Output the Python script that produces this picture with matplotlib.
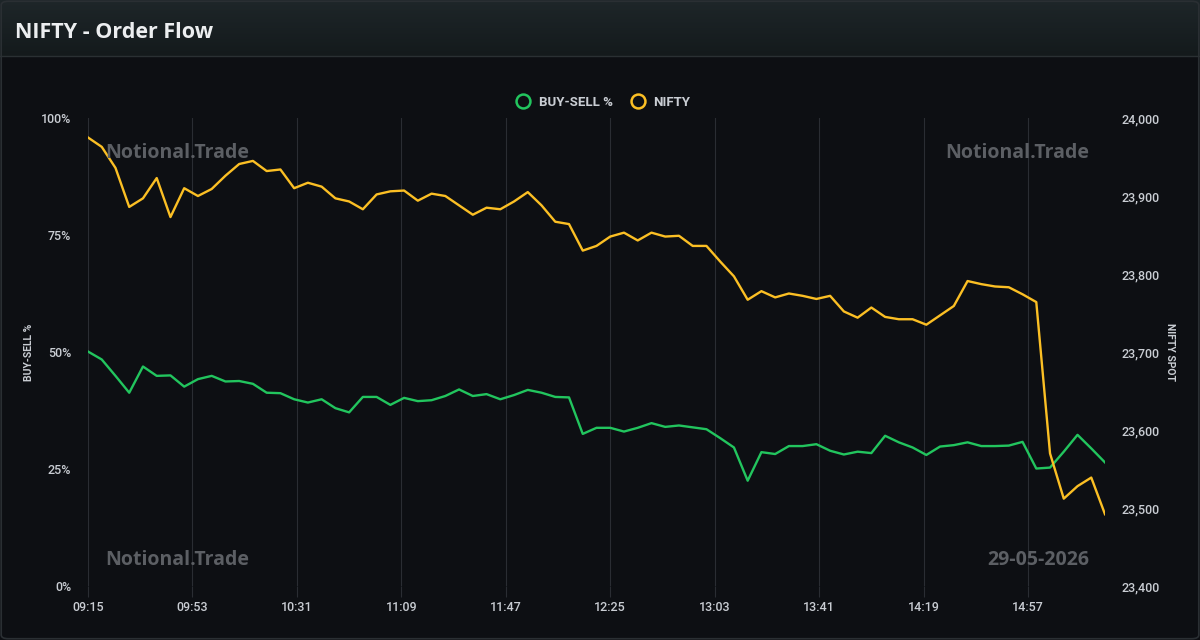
import numpy as np
import pandas as pd
import matplotlib.pyplot as plt
from matplotlib.patches import FancyBboxPatch
from matplotlib.lines import Line2D
from matplotlib.colors import LinearSegmentedColormap

# 5 minute snapshots, 09:15 -> 15:25
times = pd.date_range('2026-05-29 09:15', periods=75, freq='5min')

buy_sell_pct = [
    50.1, 48.4, 44.9, 41.3, 46.9, 44.9, 45.0, 42.6, 44.2, 44.9,
    43.7, 43.8, 43.2, 41.3, 41.2, 39.9, 39.2, 39.9, 38.0, 37.1,
    40.4, 40.4, 38.7, 40.2, 39.5, 39.7, 40.6, 42.0, 40.6, 41.0,
    39.9, 40.8, 41.9, 41.3, 40.4, 40.3, 32.5, 33.8, 33.8, 33.0,
    33.8, 34.8, 34.0, 34.3, 33.9, 33.5, 31.6, 29.6, 22.5, 28.6,
    28.2, 29.9, 29.9, 30.3, 28.9, 28.1, 28.7, 28.4, 32.1, 30.7,
    29.6, 28.0, 29.8, 30.1, 30.7, 29.9, 29.9, 30.0, 30.8, 25.1,
    25.3, 28.7, 32.3, 29.4, 26.4,
]

nifty_spot = [
    23975, 23963, 23936, 23886, 23897, 23923, 23873, 23910, 23900, 23909,
    23926, 23941, 23945, 23932, 23934, 23910, 23917, 23912, 23897, 23893,
    23883, 23902, 23906, 23907, 23894, 23903, 23900, 23888, 23876, 23885,
    23883, 23893, 23905, 23888, 23867, 23864, 23830, 23836, 23848, 23853,
    23843, 23853, 23848, 23849, 23836, 23836, 23816, 23797, 23767, 23778,
    23770, 23775, 23772, 23768, 23772, 23752, 23744, 23757, 23745, 23742,
    23742, 23735, 23747, 23759, 23791, 23787, 23784, 23783, 23774, 23764,
    23570, 23512, 23528, 23539, 23492,
]

x_tick_labels = ['09:15', '09:53', '10:31', '11:09', '11:47',
                 '12:25', '13:03', '13:41', '14:19', '14:57']
pct_ticks = [0, 25, 50, 75, 100]
spot_ticks = [23400, 23500, 23600, 23700, 23800, 23900, 24000]

GREEN = '#22c55e'
YELLOW = '#fbbf24'
BG = '#0d0f13'
GRID = '#2a2d33'
TXT = '#c9cdd3'
WM = '#5c5f64'


def to_minutes(hhmm):
    h, m = hhmm.split(':')
    return (int(h) - 9) * 60 + int(m) - 15


x = [(t.hour - 9) * 60 + t.minute - 15 for t in times]
x_ticks = [to_minutes(s) for s in x_tick_labels]

fig = plt.figure(figsize=(12, 6.4), dpi=100, facecolor=BG)

# header bar with a soft vertical gradient
hdr = fig.add_axes([0, 1 - 56 / 640, 1, 56 / 640])
grad = np.linspace(0, 1, 100).reshape(-1, 1)
cmap = LinearSegmentedColormap.from_list('hdr', ['#1e2629', '#141a1c'])
hdr.imshow(grad, aspect='auto', cmap=cmap, extent=[0, 1, 0, 1])
hdr.set_axis_off()
fig.text(15 / 1200, 1 - 32 / 640, 'NIFTY - Order Flow', color='#eceef0',
         fontsize=15.5, fontweight='bold', family='Open Sans', va='center')
fig.add_artist(Line2D([0, 1], [1 - 56 / 640, 1 - 56 / 640], color='#2a3033', lw=1))

# rounded card border
fig.add_artist(FancyBboxPatch((0.001, 0.002), 0.998, 0.996,
                              boxstyle='round,pad=0,rounding_size=0.006',
                              transform=fig.transFigure, fill=False,
                              edgecolor='#2a2f33', lw=1.2))

ax = fig.add_axes([88 / 1200, 1 - 586 / 640, (1105 - 88) / 1200, (586 - 118) / 640])
ax.set_facecolor(BG)
ax2 = ax.twinx()

ax.plot(x, buy_sell_pct, color=GREEN, lw=1.7, zorder=3)
ax2.plot(x, nifty_spot, color=YELLOW, lw=1.7, zorder=3)

ax.set_xlim(0, 370)
ax.set_ylim(0, 100)
ax2.set_ylim(23400, 24000)

ax.set_xticks(x_ticks)
ax.set_xticklabels(x_tick_labels)
ax.grid(axis='x', color=GRID, lw=0.8)
ax.set_axisbelow(True)

ax.set_yticks(pct_ticks)
ax.set_yticklabels([f'{v}%' for v in pct_ticks])
ax2.set_yticks(spot_ticks)
ax2.set_yticklabels([f'{v:,}' for v in spot_ticks])

for a in (ax, ax2):
    for s in a.spines.values():
        s.set_visible(False)
    for lab in a.get_xticklabels() + a.get_yticklabels():
        lab.set_fontfamily('Roboto')
        lab.set_fontweight('medium')

ax.tick_params(axis='x', colors=TXT, labelsize=9, length=8, width=0.8,
               color=GRID, pad=3)
ax.tick_params(axis='y', colors=TXT, labelsize=9, length=0, pad=12)
ax2.tick_params(axis='y', colors=TXT, labelsize=9, length=0, pad=12)

ax.set_ylabel('BUY-SELL %', color=TXT, fontsize=7.5, fontweight='bold',
              family='Roboto', labelpad=5)
ax2.set_ylabel('NIFTY SPOT', color=TXT, fontsize=7.5, fontweight='bold',
               family='Roboto', rotation=270, labelpad=11)

# legend with hollow circles
handles = [
    Line2D([], [], ls='none', marker='o', markersize=10, markerfacecolor='none',
           markeredgecolor=GREEN, markeredgewidth=1.8, label='BUY-SELL %'),
    Line2D([], [], ls='none', marker='o', markersize=10, markerfacecolor='none',
           markeredgecolor=YELLOW, markeredgewidth=1.8, label='NIFTY'),
]
leg = fig.legend(handles=handles, loc='center', bbox_to_anchor=(0.5, 1 - 102 / 640),
                 ncol=2, frameon=False, handletextpad=0.2, columnspacing=0.9,
                 prop={'family': 'Roboto', 'weight': 'bold', 'size': 9.5})
for t in leg.get_texts():
    t.set_color(TXT)

# watermarks
wm = dict(color=WM, fontsize=14, fontweight='bold', family='Open Sans', va='center')
fig.text(105 / 1200, 1 - 153 / 640, 'Notional.Trade', ha='left', **wm)
fig.text(1089 / 1200, 1 - 153 / 640, 'Notional.Trade', ha='right', **wm)
fig.text(105 / 1200, 1 - 560 / 640, 'Notional.Trade', ha='left', **wm)
fig.text(1089 / 1200, 1 - 560 / 640, '29-05-2026', ha='right', **wm)

fig.savefig('out.png', dpi=100, facecolor=BG)
